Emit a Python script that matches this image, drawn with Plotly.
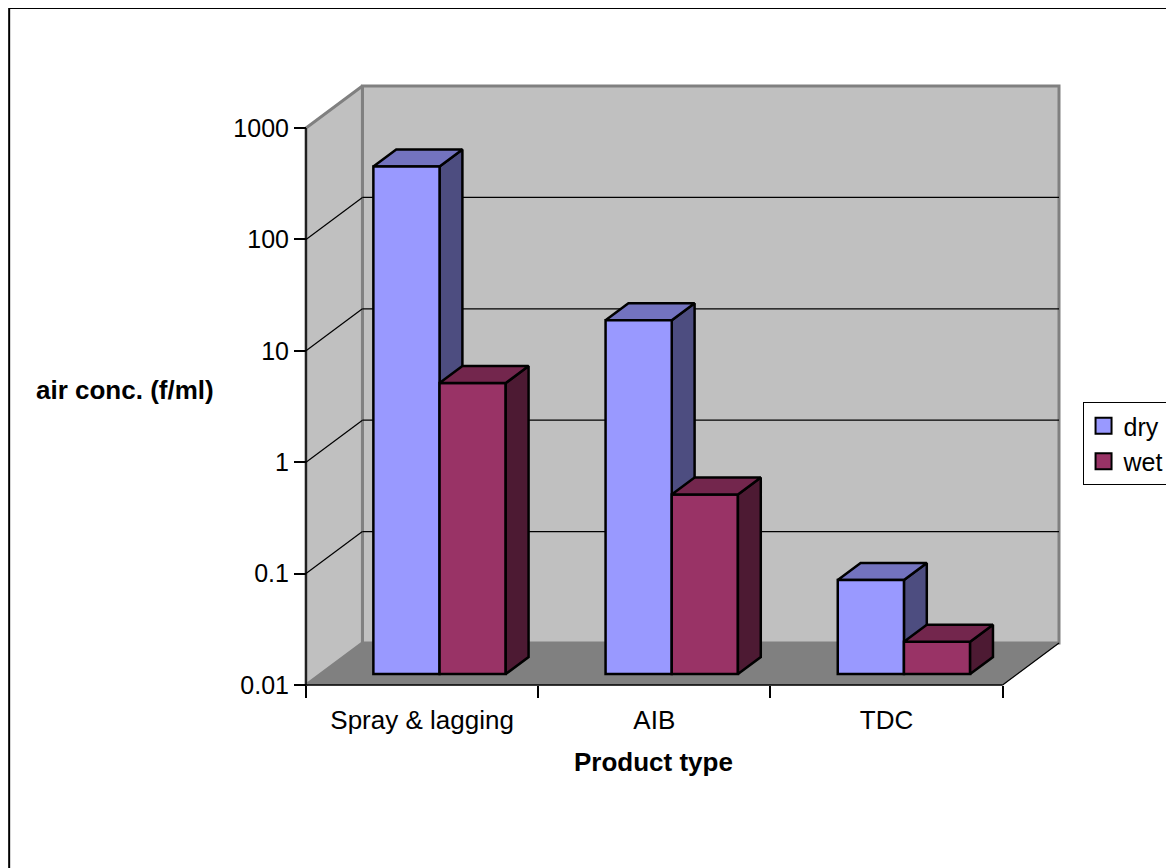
import math
import plotly.graph_objects as go

# ---------------- data ----------------
categories = ["Spray & lagging", "AIB", "TDC"]
series_names = ["dry", "wet"]
dry = [360, 15, 0.07]
wet = [4.1, 0.41, 0.0195]
y_tick_vals = [0.01, 0.1, 1, 10, 100, 1000]
y_tick_text = ["0.01", "0.1", "1", "10", "100", "1000"]

# ---------------- styling / geometry ----------------
FONT = "Liberation Sans, Arial, sans-serif"
OFF = 8              # page body margin in the browser
W_FIG, H_FIG = 1174 - OFF, 868 - OFF
PX_CAT = 232.33      # pixels per category on front plane
PX_DEC = 111.4       # pixels per decade on front plane
DX = 0.243           # full depth offset, category units
DY = 0.377           # full depth offset, decades
PAD = 6              # px padding around walls so edge lines are not clipped
F0, F1 = 0.26, 0.665 # depth fraction of bar front / back
W = 0.285            # bar width (category units)
BAR_SHIFT = 0.012    # small horizontal nudge of the bar group
N = len(categories)
YMIN, YMAX = y_tick_vals[0], y_tick_vals[-1]
dmin, dmax = math.log10(YMIN), math.log10(YMAX)

padx = PAD / PX_CAT
pady = PAD / PX_DEC
x_range = [-padx, N + DX + padx]
y_range = [dmin - pady, dmax + DY + pady]
plot_w = (x_range[1] - x_range[0]) * PX_CAT
plot_h = (y_range[1] - y_range[0]) * PX_DEC
ML = 306 - OFF - PAD
MT = 86 - OFF - PAD
MR = W_FIG - ML - plot_w
MB = H_FIG - MT - plot_h

WALL = "#C0C0C0"
WALL_EDGE = "#808080"
FLOOR = "#808080"
colors = {
    "dry": {"front": "#9999FF", "top": "#7373BF", "side": "#4D4D80"},
    "wet": {"front": "#993366", "top": "#73264D", "side": "#4D1A33"},
}
EDGE_W = 2.5


def px_x(p):   # page pixel -> paper x
    return (p - OFF - ML) / plot_w


def px_y(p):   # page pixel -> paper y
    return 1 - (p - OFF - MT) / plot_h


def lift(v, f):
    return v * 10 ** (f * DY)


fig = go.Figure()


def poly(xs, ys, fill, line_color, line_w, axes=("x", "y")):
    fig.add_trace(go.Scatter(
        x=xs, y=ys, mode="lines", fill="toself", fillcolor=fill,
        line=dict(color=line_color, width=line_w), hoverinfo="skip",
        showlegend=False, xaxis=axes[0], yaxis=axes[1]))


def lines(xs, ys, color, width, axes=("x", "y")):
    fig.add_trace(go.Scatter(
        x=xs, y=ys, mode="lines", line=dict(color=color, width=width),
        hoverinfo="skip", showlegend=False, xaxis=axes[0], yaxis=axes[1]))


# back wall
poly([DX, N + DX, N + DX, DX, DX],
     [lift(YMIN, 1), lift(YMIN, 1), lift(YMAX, 1), lift(YMAX, 1), lift(YMIN, 1)],
     WALL, WALL_EDGE, 3)
# side wall
poly([0, 0, DX, DX, 0],
     [YMIN, YMAX, lift(YMAX, 1), lift(YMIN, 1), YMIN],
     WALL, WALL_EDGE, 3)
# gridlines on back wall and side wall
gx, gy, sx, sy = [], [], [], []
for v in y_tick_vals[1:-1]:
    gx += [DX, N + DX, None]
    gy += [lift(v, 1), lift(v, 1), None]
    sx += [0, DX, None]
    sy += [v, lift(v, 1), None]
lines(gx, gy, "#000000", 1.2)
lines(sx, sy, "#000000", 1.2)
# floor
poly([0, N, N + DX, DX, 0],
     [YMIN, YMIN, lift(YMIN, 1), lift(YMIN, 1), YMIN],
     FLOOR, FLOOR, 0.5)
# floor right edge and front axis lines
lines([N, N + DX], [YMIN, lift(YMIN, 1)], "#000000", 1.2)
lines([0, N], [YMIN, YMIN], "#000000", 1.5)
lines([0, 0], [YMIN, YMAX], "#000000", 1.5)

dd = (F1 - F0) * DX
all_vals = {"dry": dry, "wet": wet}


def left_edge(i, s):
    return i + 0.5 + F0 * DX + BAR_SHIFT - W + s * W


def faces(name, axes):
    vals = all_vals[name]
    s = series_names.index(name)
    c = colors[name]
    for i, v in enumerate(vals):
        xl = left_edge(i, s)
        b0, b1 = lift(YMIN, F0), lift(YMIN, F1)
        t0, t1 = lift(v, F0), lift(v, F1)
        # side face
        poly([xl + W, xl + W, xl + W + dd, xl + W + dd, xl + W],
             [b0, t0, t1, b1, b0], c["side"], "#000000", EDGE_W, axes)
        # top face
        poly([xl, xl + W, xl + W + dd, xl + dd, xl],
             [t0, t0, t1, t1, t0], c["top"], "#000000", EDGE_W, axes)


faces("dry", ("x", "y"))

# front faces as bars (overlay subplot, drawn above subplot 1)
for s, name in enumerate(series_names):
    vals = all_vals[name]
    centers = [left_edge(i, s) + W / 2 for i in range(N)]
    base = [lift(YMIN, F0)] * N
    length = [lift(v, F0) - lift(YMIN, F0) for v in vals]
    fig.add_trace(go.Bar(
        x=centers, y=length, base=base, width=W, name=name,
        legendgroup=name, showlegend=False,
        marker=dict(color=colors[name]["front"],
                    line=dict(color="#000000", width=EDGE_W)),
        xaxis="x2", yaxis="y2", hoverinfo="skip"))

faces("wet", ("x2", "y2"))

# legend entries (square swatches like the original)
for name in series_names:
    fig.add_trace(go.Scatter(
        x=[None], y=[None], mode="markers", name=name, legendgroup=name,
        marker=dict(symbol="square", size=17, color=colors[name]["front"],
                    line=dict(color="#000000", width=2)),
        xaxis="x2", yaxis="y2", hoverinfo="skip"))

# ---------------- layout ----------------
x0_pos = (0 - x_range[0]) / (x_range[1] - x_range[0])
y0_pos = (dmin - y_range[0]) / (y_range[1] - y_range[0])

fig.update_layout(
    width=W_FIG, height=H_FIG,
    margin=dict(l=ML, r=MR, t=MT, b=MB, pad=0, autoexpand=False),
    paper_bgcolor="#FFFFFF", plot_bgcolor="rgba(0,0,0,0)",
    barmode="overlay",
    font=dict(family=FONT, size=25, color="#000000"),
    showlegend=True,
    legend=dict(
        x=px_x(1083), y=px_y(402),
        xanchor="left", yanchor="top",
        bgcolor="#FFFFFF", bordercolor="#000000", borderwidth=1,
        font=dict(family=FONT, size=25, color="#000000"),
        traceorder="normal", itemclick=False, itemsizing="trace",
        itemwidth=30, tracegroupgap=0,
    ),
    xaxis=dict(
        range=x_range, showgrid=False, zeroline=False, showline=False,
        automargin=False, anchor="free", position=y0_pos,
        tickmode="array", tickvals=[i + 0.5 for i in range(N)],
        ticktext=categories, ticks="outside", ticklen=12,
        tickcolor="rgba(0,0,0,0)", tickfont=dict(family=FONT, size=26),
        minor=dict(tickmode="array", tickvals=list(range(N + 1)),
                   ticks="outside", ticklen=12, tickcolor="#000000",
                   tickwidth=1.5, showgrid=False),
        fixedrange=True,
    ),
    yaxis=dict(
        type="log", range=y_range, showgrid=False, zeroline=False,
        showline=False, automargin=False, anchor="free", position=x0_pos,
        tickmode="array", tickvals=y_tick_vals, ticktext=y_tick_text,
        ticks="outside", ticklen=12, tickcolor="#000000", tickwidth=1.5,
        tickfont=dict(family=FONT, size=25), fixedrange=True,
    ),
    xaxis2=dict(range=x_range, overlaying="x", visible=False,
                automargin=False, anchor="y2", fixedrange=True),
    yaxis2=dict(type="log", range=y_range, overlaying="y", visible=False,
                automargin=False, anchor="x2", fixedrange=True),
    annotations=[
        dict(text="<b>air conc. (f/ml)</b>", xref="paper", yref="paper",
             x=px_x(125), y=px_y(390),
             xanchor="center", yanchor="middle", showarrow=False,
             font=dict(family=FONT, size=26, color="#000000")),
        dict(text="<b>Product type</b>", xref="paper", yref="paper",
             x=px_x(654), y=px_y(762),
             xanchor="center", yanchor="middle", showarrow=False,
             font=dict(family=FONT, size=26, color="#000000")),
    ],
    shapes=[
        dict(type="rect", xref="paper", yref="paper",
             x0=px_x(9), x1=px_x(1174 + 30),
             y0=px_y(868 + 30), y1=px_y(8),
             line=dict(color="#000000", width=2), fillcolor="rgba(0,0,0,0)",
             layer="below"),
    ],
)

fig.write_html("out.html")
